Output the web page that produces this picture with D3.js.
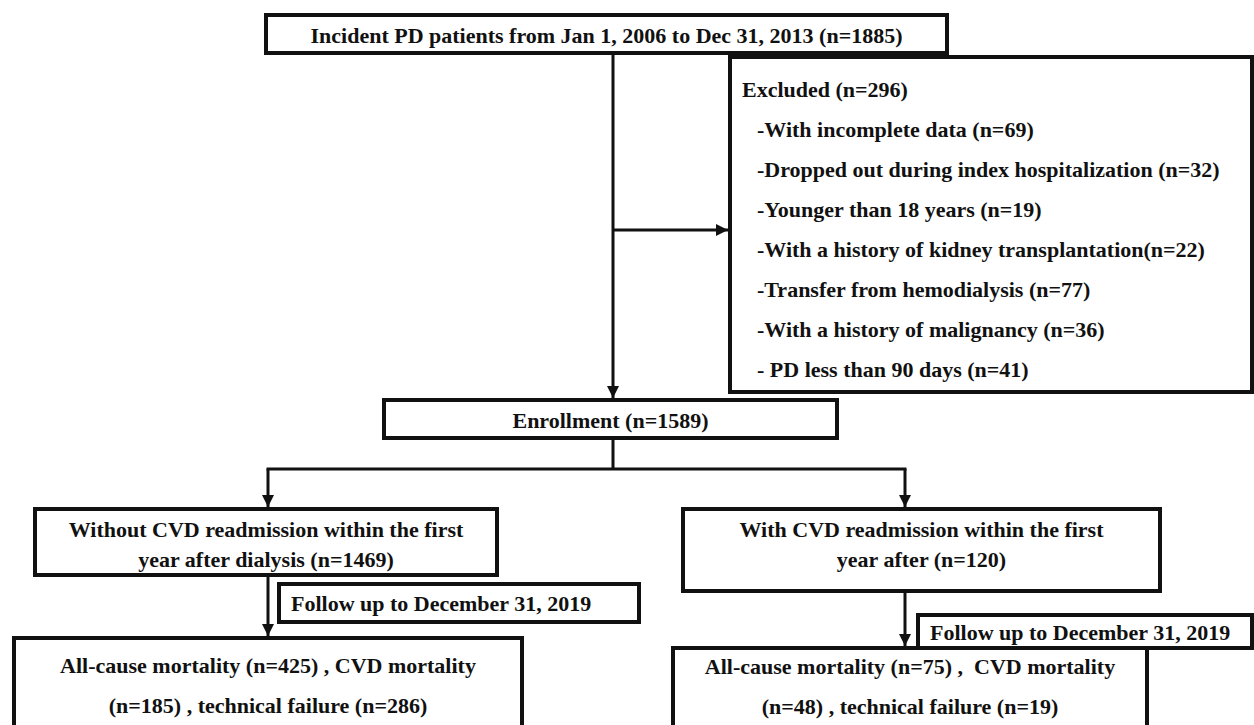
<!DOCTYPE html>
<html>
<head>
<meta charset="utf-8">
<script src="https://cdn.jsdelivr.net/npm/d3@7"></script>
<style>
  body { margin: 0; background: #fff; }
</style>
</head>
<body>
<svg id="chart" width="1254" height="725"></svg>
<script>
// flow chart content
var cohortText = ["Incident PD patients from Jan 1, 2006 to Dec 31, 2013 (n=1885)"];
var excludedTitle = ["Excluded (n=296)"];
var excludedReasons = [
	"-With incomplete data (n=69)",
	"-Dropped out during index hospitalization (n=32)",
	"-Younger than 18 years (n=19)",
	"-With a history of kidney transplantation(n=22)",
	"-Transfer from hemodialysis (n=77)",
	"-With a history of malignancy (n=36)",
	"- PD less than 90 days (n=41)"
];
var enrollText = ["Enrollment (n=1589)"];
var groupText = [
	["Without CVD readmission within the first", "year after dialysis (n=1469)"],
	["With CVD readmission within the first", "year after (n=120)"]
];
var followText = ["Follow up to December 31, 2019", "Follow up to December 31, 2019"];
var outcomeText = [
	["All-cause mortality (n=425) , CVD mortality", "(n=185) , technical failure (n=286)"],
	["All-cause mortality (n=75) ,  CVD mortality", "(n=48) , technical failure (n=19)"]
];

// layout (pixels)
var layout = {
	top:     {x: 266, y: 15,  w: 681, h: 38},
	excl:    {x: 730, y: 57,  w: 522, h: 335},
	enroll:  {x: 384, y: 400, w: 453, h: 38},
	groups:  [{x: 35, y: 509, w: 462, h: 66}, {x: 683, y: 509, w: 477, h: 82}],
	follows: [{x: 279, y: 584, w: 360, h: 38}, {x: 918, y: 615, w: 334, h: 33}],
	outcomes:[{x: 14,  y: 638, w: 508, h: 100}, {x: 673, y: 648, w: 474, h: 100}],
	mainX: 613,
	branchY: 469,
	branchX: [268, 905]
};

var svg = d3.select("#chart")
	.attr("font-family", "'Liberation Serif', 'Times New Roman', Times, 'DejaVu Serif', serif")
	.attr("font-weight", "bold")
	.attr("font-size", 22);

svg.append("defs").append("marker")
	.attr("id", "arrow")
	.attr("viewBox", "0 0 10 10")
	.attr("refX", 10).attr("refY", 5)
	.attr("markerWidth", 4).attr("markerHeight", 4)
	.attr("markerUnits", "strokeWidth")
	.attr("orient", "auto")
	.append("path")
	.attr("d", "M0,0 L10,5 L0,10 Z")
	.attr("fill", "#111");

function box(b) {
	svg.append("rect")
		.attr("x", b.x).attr("y", b.y)
		.attr("width", b.w).attr("height", b.h)
		.attr("fill", "none")
		.attr("stroke", "#111")
		.attr("stroke-width", 4);
}

function line(x1, y1, x2, y2, arrow) {
	var l = svg.append("line")
		.attr("x1", x1).attr("y1", y1)
		.attr("x2", x2).attr("y2", y2)
		.attr("stroke", "#111")
		.attr("stroke-width", 3);
	if (arrow) l.attr("marker-end", "url(#arrow)");
}

function centerText(lines, b, firstBase, step) {
	svg.selectAll(null)
		.data(lines)
		.enter()
		.append("text")
		.attr("x", b.x + b.w / 2)
		.attr("y", function(d, i) { return b.y + firstBase + i * step; })
		.attr("text-anchor", "middle")
		.attr("fill", "#111")
		.attr("xml:space", "preserve")
		.text(function(d) { return d; });
}

// connectors
line(layout.mainX, layout.top.y + layout.top.h + 2, layout.mainX, layout.enroll.y - 2, true);
line(layout.mainX, 230, layout.excl.x - 2, 230, true);
line(layout.mainX, layout.enroll.y + layout.enroll.h, layout.mainX, layout.branchY);
line(layout.branchX[0] - 1.5, layout.branchY, layout.branchX[1] + 1.5, layout.branchY);
layout.branchX.forEach(function(x, i) {
	line(x, layout.branchY, x, layout.groups[i].y - 2, true);
	line(x, layout.groups[i].y + layout.groups[i].h, x, layout.outcomes[i].y - 2, true);
});

// boxes
box(layout.top);
box(layout.excl);
box(layout.enroll);
layout.groups.forEach(box);
layout.follows.forEach(box);
layout.outcomes.forEach(box);

// texts
centerText(cohortText, layout.top, 28, 0);
centerText(enrollText, layout.enroll, 28, 0);

svg.selectAll(null)
	.data(excludedTitle.concat(excludedReasons))
	.enter()
	.append("text")
	.attr("x", function(d, i) { return i === 0 ? 742 : 757; })
	.attr("y", function(d, i) { return 97 + i * 40; })
	.attr("fill", "#111")
	.attr("xml:space", "preserve")
	.text(function(d) { return d; });

groupText.forEach(function(t, i) { centerText(t, layout.groups[i], 28, 30); });
followText.forEach(function(t, i) {
	svg.append("text")
		.attr("x", layout.follows[i].x + 12)
		.attr("y", layout.follows[i].y + layout.follows[i].h / 2 + 8)
		.attr("fill", "#111")
		.text(t);
});
outcomeText.forEach(function(t, i) { centerText(t, layout.outcomes[i], i === 0 ? 35 : 26, 40); });
</script>
</body>
</html>
